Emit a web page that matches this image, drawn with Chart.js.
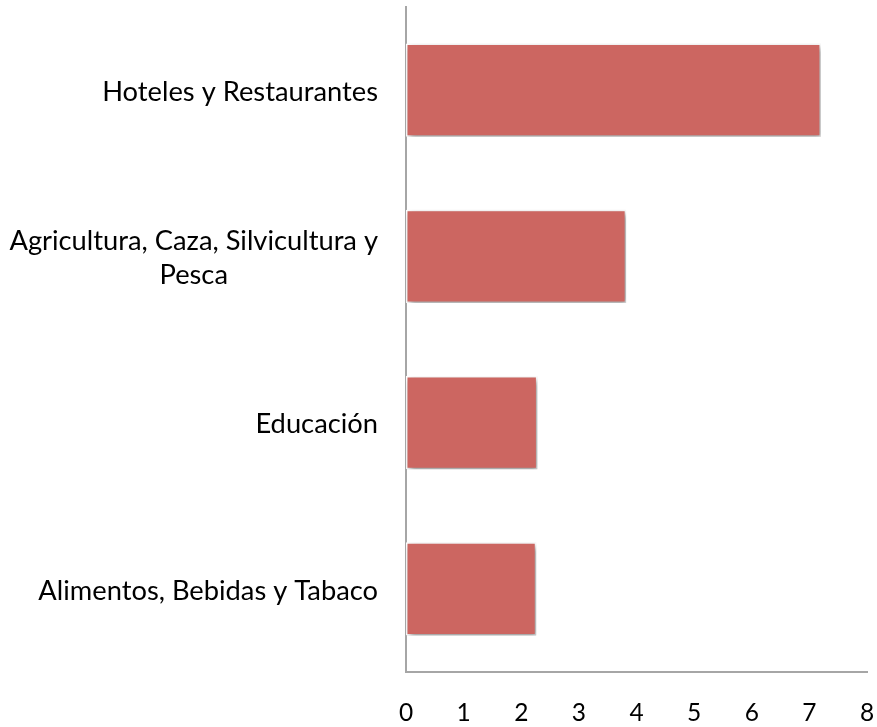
<!DOCTYPE html>
<html>
<head>
<meta charset="utf-8">
<script src="https://cdn.jsdelivr.net/npm/chart.js@4/dist/chart.umd.min.js"></script>
<style>
  html, body { margin: 0; padding: 0; background: #ffffff; }
  #wrap { width: 877px; height: 727px; }
</style>
</head>
<body>
<div id="wrap"><canvas id="chart" width="877" height="727"></canvas></div>
<script>
// Sectors (multi-line labels as arrays)
const categories = [
  'Hoteles y Restaurantes',
  ['Agricultura, Caza, Silvicultura y', 'Pesca'],
  'Educación',
  'Alimentos, Bebidas y Tabaco'
];
const values = [7.2, 3.82, 2.28, 2.26];
const tickValues = [0, 1, 2, 3, 4, 5, 6, 7, 8];

const LABEL_FONT = '27.3px Lato, "Open Sans", sans-serif';
const LINE_H = 34;

// Soft drop shadow under the bars
const barShadow = {
  id: 'barShadow',
  beforeDatasetDraw(chart) {
    const ctx = chart.ctx;
    ctx.save();
    ctx.shadowColor = 'rgba(0,0,0,0.42)';
    ctx.shadowBlur = 6;
    ctx.shadowOffsetX = 2;
    ctx.shadowOffsetY = 3;
  },
  afterDatasetDraw(chart) {
    chart.ctx.restore();
  }
};

// Category labels: right aligned block, lines centred within the block
const categoryLabels = {
  id: 'categoryLabels',
  afterDraw(chart) {
    const scale = chart.scales.y;
    const ctx = chart.ctx;
    const right = scale.right - 28;
    ctx.save();
    ctx.font = LABEL_FONT;
    ctx.fillStyle = '#000000';
    ctx.textBaseline = 'middle';
    ctx.textAlign = 'center';
    scale.getTicks().forEach((t, i) => {
      const lbl = categories[i];
      const lines = Array.isArray(lbl) ? lbl : [lbl];
      const w = Math.max(...lines.map(l => ctx.measureText(l).width));
      const cx = right - w / 2;
      const y0 = scale.getPixelForTick(i) + 2 - (lines.length - 1) * LINE_H / 2;
      lines.forEach((l, k) => ctx.fillText(l, cx, y0 + k * LINE_H));
    });
    ctx.restore();
  }
};

new Chart(document.getElementById('chart'), {
  type: 'bar',
  data: {
    labels: categories,
    datasets: [{
      data: values,
      backgroundColor: '#CC6661',
      borderColor: '#ffffff',
      borderWidth: 1.5,
      borderSkipped: false,
      categoryPercentage: 1,
      barPercentage: 0.56
    }]
  },
  options: {
    indexAxis: 'y',
    responsive: false,
    animation: false,
    layout: { padding: { top: 7, right: 10, left: 0, bottom: 0 } },
    plugins: { legend: { display: false }, tooltip: { enabled: false } },
    scales: {
      x: {
        min: 0,
        max: 8,
        afterBuildTicks(scale) { scale.ticks = tickValues.map(v => ({ value: v })); },
        grid: { display: false, drawTicks: true, tickLength: 26 },
        border: { display: true, color: '#a6a6a6', width: 2 },
        ticks: {
          padding: 0,
          color: '#000000',
          font: { family: 'Lato, "Open Sans", sans-serif', size: 24.5 }
        },
        afterFit(scale) { scale.height = 55; }
      },
      y: {
        grid: { display: false, drawTicks: false },
        border: { display: true, color: '#a6a6a6', width: 2 },
        ticks: { display: false },
        afterFit(scale) { scale.width = 406; }
      }
    }
  },
  plugins: [barShadow, categoryLabels]
});
</script>
</body>
</html>
